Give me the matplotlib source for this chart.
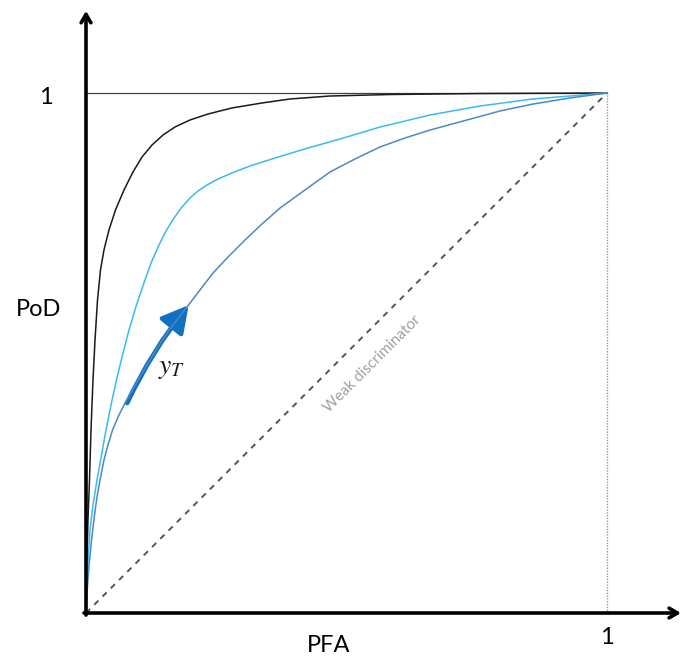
import matplotlib
matplotlib.use("Agg")
import matplotlib.pyplot as plt
from matplotlib.patches import FancyArrowPatch

# ROC curves (PFA, PoD)
black_x = [0, 0.0010, 0.0019, 0.0038, 0.0067, 0.0096, 0.0134, 0.0173, 0.0221, 0.0278, 0.0345, 0.0441,
           0.0566, 0.0729, 0.0902, 0.1075, 0.1267, 0.1478, 0.1708, 0.1996, 0.2342, 0.2802, 0.3378,
           0.3916, 0.4683, 0.5835, 0.7562, 1.0]
black_y = [0, 0.0442, 0.1019, 0.1788, 0.2558, 0.3519, 0.4481, 0.5250, 0.6019, 0.6596, 0.6981, 0.7365,
           0.7750, 0.8135, 0.8481, 0.8769, 0.9000, 0.9192, 0.9346, 0.9481, 0.9596, 0.9712, 0.9808,
           0.9885, 0.9942, 0.9971, 0.9990, 1.0]

light_x = [0, 0.0019, 0.0044, 0.0077, 0.0134, 0.0211, 0.0298, 0.0384, 0.0480, 0.0585, 0.0701, 0.0825,
           0.0969, 0.1132, 0.1257, 0.1401, 0.1545, 0.1689, 0.1843, 0.1996, 0.2150, 0.2322, 0.2534,
           0.2802, 0.3148, 0.3628, 0.4261, 0.4875, 0.5643, 0.6603, 0.7562, 0.8580, 0.9290, 1.0]
light_y = [0, 0.0635, 0.1115, 0.1596, 0.2077, 0.2558, 0.3038, 0.3519, 0.4000, 0.4481, 0.4962, 0.5442,
           0.5923, 0.6404, 0.6750, 0.7077, 0.7365, 0.7596, 0.7808, 0.7981, 0.8115, 0.8231, 0.8346,
           0.8462, 0.8596, 0.8750, 0.8942, 0.9115, 0.9346, 0.9577, 0.9750, 0.9885, 0.9942, 1.0]

dark_x = [0, 0.0023, 0.0058, 0.0106, 0.0163, 0.0211, 0.0269, 0.0345, 0.0422, 0.0509, 0.0624, 0.0749,
          0.0998, 0.1286, 0.1593, 0.1939, 0.2188, 0.2438, 0.2726, 0.3052, 0.3378, 0.3724, 0.4203,
          0.4683, 0.5163, 0.5643, 0.6123, 0.6603, 0.7313, 0.7946, 0.8580, 0.9290, 1.0]
dark_y = [0, 0.0442, 0.0923, 0.1404, 0.1885, 0.2231, 0.2558, 0.2942, 0.3231, 0.3519, 0.3788, 0.4038,
          0.4481, 0.4962, 0.5442, 0.5885, 0.6212, 0.6538, 0.6846, 0.7173, 0.7481, 0.7788, 0.8135,
          0.8481, 0.8731, 0.8962, 0.9135, 0.9288, 0.9481, 0.9654, 0.9788, 0.9904, 1.0]

arrow_start = (0.079, 0.404)
arrow_end = (0.197, 0.592)

fig = plt.figure(figsize=(6.81, 6.57), dpi=100)
ax = fig.add_axes([0, 0, 1, 1])
ax.set_xlim(-86 / 521, (681 - 86) / 521)
ax.set_ylim((613 - 657) / 520, 613 / 520)
ax.axis("off")

# reference lines
ax.plot([0, 1], [1, 1], color="#404040", lw=0.9)
ax.plot([1, 1], [0, 1], color="#9a9a9a", lw=1.0, ls=(0, (1, 1)))
ax.plot([0, 1], [0, 1], color="#555555", lw=1.4, ls=(0, (3, 3)))

# curves
kw = dict(lw=1.1, solid_joinstyle="round", antialiased=True)
ax.plot(black_x, black_y, color="#1a1a1a", **kw)
ax.plot(light_x, light_y, color="#3bbaee", **kw)
ax.plot(dark_x, dark_y, color="#4a88c8", **kw)

# axes with arrows
ax.annotate("", xy=(1.142, 0), xytext=(-0.004, 0),
            arrowprops=dict(arrowstyle="->,head_length=0.6,head_width=0.35", lw=2.6, color="black",
                            shrinkA=0, shrinkB=0))
ax.annotate("", xy=(0, 1.158), xytext=(0, -0.004),
            arrowprops=dict(arrowstyle="->,head_length=0.6,head_width=0.35", lw=2.6, color="black",
                            shrinkA=0, shrinkB=0))

# threshold arrow
arr = FancyArrowPatch(arrow_start, arrow_end, connectionstyle="arc3,rad=-0.06",
                      arrowstyle="-|>,head_length=1.0,head_width=0.55", lw=3.4,
                      color="#1170c0", shrinkA=0, shrinkB=0, mutation_scale=16)
ax.add_patch(arr)

plt.rcParams["mathtext.fontset"] = "stix"
ax.text(0.165, 0.473, r"$y_T$", fontsize=20, ha="center", va="center", color="#1a1a1a")

tfont = dict(family=["Lato", "DejaVu Sans"], color="black")
ax.text(-0.077, 0.992, "1", fontsize=17, ha="center", va="center", **tfont)
ax.text(1.0, -0.048, "1", fontsize=17, ha="center", va="center", **tfont)
ax.text(-0.092, 0.583, "PoD", fontsize=17, ha="center", va="center", **tfont)
ax.text(0.466, -0.062, "PFA", fontsize=17, ha="center", va="center", **tfont)
ax.text(0.549, 0.479, "Weak discriminator", fontsize=11, rotation=45, ha="center", va="center",
        color="#a0a0a0", family=["Lato", "DejaVu Sans"], rotation_mode="anchor")

fig.savefig("out.png", dpi=100)
